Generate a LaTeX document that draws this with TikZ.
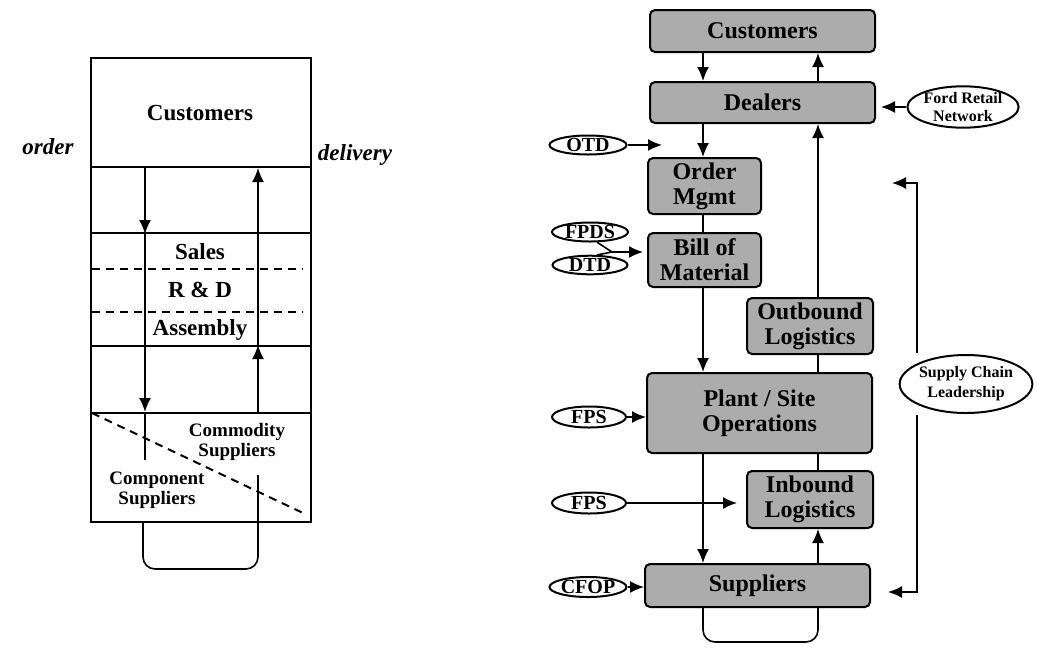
\documentclass[tikz,border=0pt]{standalone}
\usepackage{fontspec}
\setmainfont{Liberation Serif}
\usetikzlibrary{arrows.meta,positioning,shapes.geometric}

\tikzset{
  layer/.style = {draw, line width=1pt, minimum width=110pt, inner sep=0pt},
  stage/.style = {draw, line width=1pt, rounded corners=2.5pt, fill=gray!65, align=center, inner sep=0pt,
                  font=\fontsize{12}{12.5}\selectfont\bfseries},
  tool/.style  = {draw, ellipse, line width=1pt, inner sep=0pt, align=center,
                  font=\fontsize{10}{11}\selectfont\bfseries},
  arr/.style   = {-{Latex[length=7pt,width=6pt]}, line width=0.8pt},
}

\begin{document}
\begin{tikzpicture}[x=0.5pt, y=-0.5pt, line width=0.8pt,
    txt/.style = {font=\fontsize{11.5}{12}\selectfont\bfseries, align=center}]
\useasboundingbox (0,0) rectangle (1037,654);

% left: layered view
\node[layer, minimum height=54.5pt] (custL) at (201,112.5) {};
\node[layer, minimum height=33pt]   (gapA)  at (201,200) {};
\node[layer, minimum height=56.5pt] (firm)  at (201,289.5) {};
\node[layer, minimum height=33.5pt] (gapB)  at (201,379.5) {};
\node[layer, minimum height=54.5pt] (supL)  at (201,467.5) {};
\node[txt] (custTxt) at (200,113) {Customers};
\node[txt] (sales) at (200,252) {Sales};
\node[txt] (rnd) at (200,290) {R \& D};
\node[txt] (asm) at (200,330) {Assembly};
\node[txt, font=\fontsize{9.5}{10}\selectfont\bfseries] (commod) at (237,442) {Commodity\\Suppliers};
\node[txt, font=\fontsize{9.5}{10}\selectfont\bfseries] (compo) at (157,490) {Component\\Suppliers};
\node[txt, font=\fontsize{11.5}{12}\selectfont\bfseries\itshape] (order) at (48,147) {order};
\node[txt, font=\fontsize{11.5}{12}\selectfont\bfseries\itshape] (deliv) at (355,155) {delivery};

\draw[line width=1pt, dash pattern=on 4pt off 3pt] (92,269) -- (303,269);
\draw[line width=1pt, dash pattern=on 4pt off 3pt] (92,312) -- (303,312);
\draw[line width=1pt, dash pattern=on 4pt off 3pt] (92,413) -- (303,513);

\coordinate (ordx) at (145,0);
\coordinate (delx) at (258,0);
\coordinate (ordEnd) at (145,460);
\coordinate (delEnd) at (258,475);
\draw[arr] (custL.south -| ordx) -- (gapA.south -| ordx);
\draw[arr] (gapA.south -| ordx) -- (supL.north -| ordx);
\draw (supL.north -| ordx) -- (ordEnd);
\draw[arr] (supL.north -| delx) -- (gapB.north -| delx);
\draw[arr] (gapB.north -| delx) -- (custL.south -| delx);
\draw[rounded corners=6pt] (delEnd) -- (258,569) -- (143,569) -- (supL.south -| 143,0);

% right: Ford flow
\node[stage, minimum width=112.5pt, minimum height=21pt]   (cust)    at (762.5,31) {Customers};
\node[stage, minimum width=112.5pt, minimum height=20.5pt] (dealers) at (762.5,102.5) {Dealers};
\node[stage, minimum width=56.5pt, minimum height=28pt]    (ordm)    at (704.5,186) {Order\\Mgmt};
\node[stage, minimum width=56.5pt, minimum height=27pt]    (bom)     at (704.5,260) {Bill of\\Material};
\node[stage, minimum width=63pt, minimum height=28pt]      (outb)    at (810,326) {Outbound\\Logistics};
\node[stage, minimum width=112.5pt, minimum height=40pt]   (plant)   at (759.5,413) {Plant / Site\\Operations};
\node[stage, minimum width=63pt, minimum height=28.5pt]    (inb)     at (810,499.5) {Inbound\\Logistics};
\node[stage, minimum width=112.5pt, minimum height=21.5pt] (supp)    at (757.5,585.5) {Suppliers};

\node[tool, minimum width=38.5pt, minimum height=8pt]  (otd)  at (588,145) {OTD};
\node[tool, minimum width=38pt, minimum height=9pt]    (fpds) at (590,232) {FPDS};
\node[tool, minimum width=37.5pt, minimum height=9pt]  (dtd)  at (590,265) {DTD};
\node[tool, minimum width=37pt, minimum height=10.5pt] (fps)  at (589,417) {FPS};
\node[tool, minimum width=37pt, minimum height=10.5pt] (fpsb) at (589,503) {FPS};
\node[tool, minimum width=37.5pt, minimum height=10pt] (cfop) at (588,587) {CFOP};
\node[tool, minimum width=48pt, minimum height=19pt, font=\fontsize{8}{9}\selectfont\bfseries]
  (ford) at (963,107) {Ford Retail\\Network};
\node[tool, minimum width=58.5pt, minimum height=29pt, font=\fontsize{8}{10}\selectfont\bfseries]
  (lead) at (966,384) {Supply Chain\\Leadership};

\coordinate (colL) at (703,0);
\coordinate (colR) at (818,0);
\draw[arr] (cust.south -| colL) -- (dealers.north -| colL);
\draw[arr] (dealers.north -| colR) -- (cust.south -| colR);
\draw[arr] (dealers.south -| colL) -- (ordm.north -| colL);
\draw (ordm.south -| colL) -- (bom.north -| colL);
\draw[arr] (bom.south -| colL) -- (plant.north -| colL);
\draw[arr] (plant.south -| colL) -- (supp.north -| colL);
\draw[arr] (supp.north -| colR) -- (inb.south -| colR);
\draw (inb.north -| colR) -- (plant.south -| colR);
\draw (plant.north -| colR) -- (outb.south -| colR);
\draw[arr] (outb.north -| colR) -- (dealers.south -| colR);
\draw[rounded corners=6pt] (supp.south -| colL) -- (703,642) -- (818,642) -- (supp.south -| colR);

\coordinate (otdTip) at (662,145);
\coordinate (fork) at (612,252);
\draw[arr] (otd) -- (otdTip);
\draw (fpds.-55) -- (fork) -- (dtd.55);
\draw[arr, shorten >=2pt] (fork) -- (bom.west |- fork);
\draw[arr] (fps) -- (plant.west |- fps);
\draw[arr, shorten >=4.5pt] (fpsb) -- (inb.west |- fpsb);
\draw[arr] (cfop) -- (supp.west |- cfop);
\draw[arr, shorten >=2.5pt] (ford) -- (dealers.east |- ford);

\coordinate (scA) at (917,353);
\coordinate (scB) at (917,415);
\coordinate (scTop) at (892,183);
\coordinate (scBot) at (888,592);
\draw[arr] (scA) |- (scTop);
\draw[arr] (scB) |- (scBot);
\end{tikzpicture}
\end{document}
